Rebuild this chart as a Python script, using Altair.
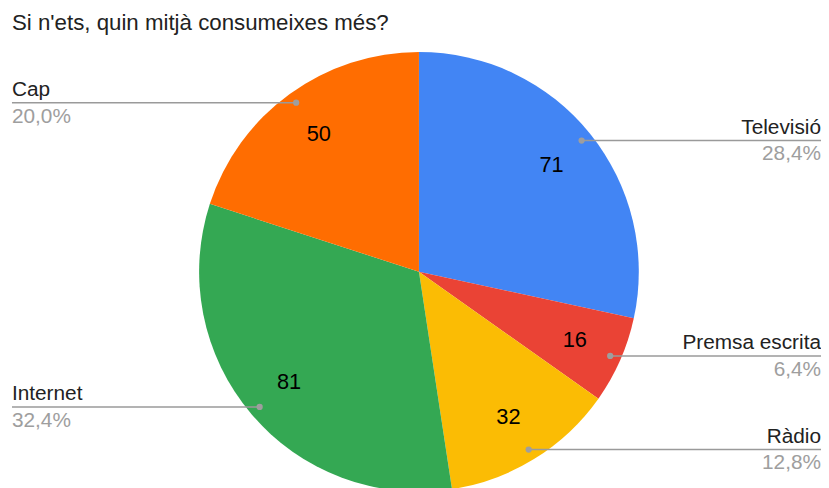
import altair as alt
import pandas as pd
import numpy as np

categories = ["Televisió", "Premsa escrita", "Ràdio", "Internet", "Cap"]
values = [71, 16, 32, 81, 50]
colors = ["#4285F4", "#EA4335", "#FBBC04", "#34A853", "#FF6D01"]
title_text = "Si n'ets, quin mitjà consumeixes més?"

W, H = 821, 480
CX, CY, R = 415, 264, 222
DOT_R = 211
LABEL_R = 172
LEFT_X, RIGHT_X = 4, 821
FONT = "Liberation Sans"

df = pd.DataFrame({"cat": categories, "value": values, "order": list(range(len(categories)))})
total = df["value"].sum()
cum = df["value"].cumsum() - df["value"]
mid = (cum + df["value"] / 2) / total * 2 * np.pi
df["pct"] = (df["value"] / total * 100).map(lambda v: f"{v:.1f}".replace(".", ",") + "%")
df["px"] = CX + DOT_R * np.sin(mid)
df["py"] = CY - DOT_R * np.cos(mid)
df["left"] = (mid > np.pi)
df["ex"] = np.where(df["left"], LEFT_X, RIGHT_X)

xs = alt.Scale(domain=[0, W], nice=False, zero=False)
ys = alt.Scale(domain=[0, H], reverse=True, nice=False, zero=False)

base = alt.Chart(df)

arcs = base.mark_arc(outerRadius=R).encode(
    theta=alt.Theta("value:Q", stack=True),
    color=alt.Color("cat:N", scale=alt.Scale(domain=categories, range=colors), legend=None),
    order=alt.Order("order:Q"),
    x=alt.value(CX),
    y=alt.value(CY),
)

inner = base.mark_text(radius=LABEL_R, fontSize=22, font=FONT, color="#000000", baseline="middle").encode(
    theta=alt.Theta("value:Q", stack=True),
    order=alt.Order("order:Q"),
    text="value:Q",
    x=alt.value(CX),
    y=alt.value(CY),
)

rules = base.mark_rule(color="#9a9a9a", strokeWidth=1.5).encode(
    x=alt.X("px:Q", scale=xs, axis=None),
    x2="ex:Q",
    y=alt.Y("py:Q", scale=ys, axis=None),
)

dots = base.mark_circle(size=40, color="#9e9e9e", opacity=1).encode(
    x=alt.X("px:Q", scale=xs, axis=None),
    y=alt.Y("py:Q", scale=ys, axis=None),
)

def side_labels(align, cond):
    names = base.transform_filter(cond).mark_text(
        align=align, baseline="alphabetic", dy=-7, fontSize=21, font=FONT, color="#222222"
    ).encode(
        x=alt.X("ex:Q", scale=xs, axis=None),
        y=alt.Y("py:Q", scale=ys, axis=None),
        text="cat:N",
    )
    pcts = base.transform_filter(cond).mark_text(
        align=align, baseline="alphabetic", dy=20, fontSize=21, font=FONT, color="#9e9e9e"
    ).encode(
        x=alt.X("ex:Q", scale=xs, axis=None),
        y=alt.Y("py:Q", scale=ys, axis=None),
        text="pct:N",
    )
    return names + pcts

left_labels = side_labels("left", "datum.left")
right_labels = side_labels("right", "!datum.left")

title = alt.Chart(pd.DataFrame({"t": [title_text]})).mark_text(
    align="left", baseline="alphabetic", fontSize=22.5, font=FONT, color="#222222"
).encode(x=alt.value(4), y=alt.value(20), text="t:N")

chart = alt.layer(arcs, inner, rules, dots, left_labels, right_labels, title).properties(
    width=W, height=H, padding=0, autosize="none"
).configure_view(stroke=None)

chart.save("out.html", embed_options={"renderer": "svg", "actions": False})
